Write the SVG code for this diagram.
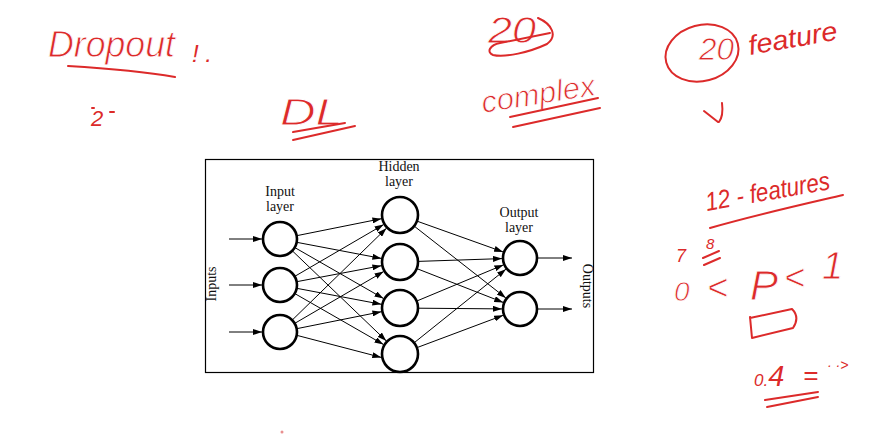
<svg xmlns="http://www.w3.org/2000/svg" width="879" height="435" viewBox="0 0 879 435">
<style>
.ink{fill:none;stroke:#dc2a2a;stroke-width:2;stroke-linecap:round;stroke-linejoin:round}
.hw{fill:#dc2a2a;font-family:"Liberation Sans","DejaVu Sans",sans-serif;font-style:italic}
.thin{stroke:#fff;stroke-width:0.8}
.node{fill:#fff;stroke:#000;stroke-width:2.6}
.edge{stroke:#000;stroke-width:1;fill:none;marker-end:url(#ah)}
.lbl{font-family:"Liberation Serif","DejaVu Serif",serif;font-size:14px;fill:#111;text-anchor:middle}
</style>
<defs>
<marker id="ah" markerWidth="9" markerHeight="6" refX="9" refY="3" orient="auto" markerUnits="userSpaceOnUse">
<path d="M0,0 L9,3 L0,6 Z" fill="#000"/>
</marker>
</defs>
<rect width="879" height="435" fill="#fff"/>

<!-- handwritten notes -->
<g id="notes">
<text class="hw thin" x="48" y="57" font-size="36" textLength="127" lengthAdjust="spacingAndGlyphs">Dropout</text>
<text class="hw" x="192" y="62" font-size="24">! .</text>
<path class="ink" d="M68,66 C100,68 140,71 175,77"/>
<text class="hw" x="91" y="126" font-size="22">2</text>
<path class="ink" d="M110,112 L114,112" stroke-width="2.5"/>
<path class="ink" d="M92,108 L94,108"/>

<text class="hw thin" x="280" y="125" font-size="36" textLength="63" lengthAdjust="spacingAndGlyphs">DL</text>
<path class="ink" d="M293,132 L345,123"/>
<path class="ink" d="M293,140 L355,126"/>

<text class="hw thin" x="488" y="43" font-size="36" textLength="48" lengthAdjust="spacingAndGlyphs">20</text>
<path class="ink" d="M538,18 C552,24 558,36 547,44 C530,52 505,58 493,55 C486,52 490,45 500,43 L550,33"/>

<text class="hw thin" x="483" y="113" font-size="30" textLength="115" lengthAdjust="spacingAndGlyphs" transform="rotate(-9 483 113)">complex</text>
<path class="ink" d="M510,117 L598,98"/>
<path class="ink" d="M513,127 L600,108"/>

<ellipse class="ink" cx="702" cy="53" rx="37" ry="28" transform="rotate(-15 702 53)"/>
<text class="hw thin" x="699" y="60" font-size="32" textLength="35" lengthAdjust="spacingAndGlyphs">20</text>
<text class="hw" x="750" y="55" font-size="27" textLength="90" lengthAdjust="spacingAndGlyphs" transform="rotate(-10 750 55)">feature</text>
<path class="ink" d="M722,103 C723,111 722,118 719,122 M704,111 L718,122"/>

<text class="hw" x="707" y="211" font-size="26" textLength="126" lengthAdjust="spacingAndGlyphs" transform="rotate(-10 707 211)">12 - features</text>
<path class="ink" d="M710,228 C755,215 800,205 843,195"/>

<text class="hw" x="676" y="262" font-size="18">7</text>
<text class="hw" x="706" y="249" font-size="15">8</text>
<path class="ink" d="M703,258 L719,251 M704,265 L720,258"/>
<text class="hw thin" x="674" y="301" font-size="28">0</text>
<text class="hw thin" x="707" y="300" font-size="36">&lt;</text>
<text class="hw thin" x="750" y="300" font-size="42">P</text>
<text class="hw thin" x="784" y="290" font-size="36">&lt;</text>
<text class="hw thin" x="822" y="279" font-size="38">1</text>

<path class="ink" d="M750,317 L752,338 L793,328 C797,322 798,315 792,309 L750,318"/>

<text class="hw" x="754" y="386"><tspan font-size="17">0</tspan><tspan font-size="17">.</tspan><tspan font-size="29">4</tspan></text>
<text class="hw" x="803" y="384" font-size="26">=</text>
<text class="hw" x="827" y="370" font-size="14">· ·&gt;</text>
<path class="ink" d="M765,400 L818,392"/>
<path class="ink" d="M767,407 L818,397"/>
<circle cx="282" cy="432" r="1.5" fill="#e06060" opacity="0.7"/>
</g>

<!-- neural network figure -->
<rect x="205.5" y="159.5" width="388" height="213" fill="#fff" stroke="#000" stroke-width="1.2"/>

<g id="labels">
<text class="lbl" x="280" y="196">Input</text>
<text class="lbl" x="280" y="211">layer</text>
<text class="lbl" x="399" y="171">Hidden</text>
<text class="lbl" x="399" y="186">layer</text>
<text class="lbl" x="519" y="217">Output</text>
<text class="lbl" x="519" y="232">layer</text>
<text class="lbl" transform="translate(216 284) rotate(-90)">Inputs</text>
<text class="lbl" transform="translate(583 286) rotate(90)">Outputs</text>
</g>

<g id="connectors">
<path class="edge" d="M229,239 L262,239"/>
<path class="edge" d="M229,285 L262,285"/>
<path class="edge" d="M229,332 L262,332"/>
<path class="edge" d="M296.7,235.7 L381.4,218.7"/>
<path class="edge" d="M296.7,242.3 L381.4,258.4"/>
<path class="edge" d="M294.7,247.5 L383.5,298.5"/>
<path class="edge" d="M292.3,250.8 L386.3,340.9"/>
<path class="edge" d="M294.7,276.4 L383.6,224.6"/>
<path class="edge" d="M296.7,281.7 L381.4,265.7"/>
<path class="edge" d="M296.7,288.3 L381.4,304.3"/>
<path class="edge" d="M294.7,293.5 L383.5,344.5"/>
<path class="edge" d="M292.2,320.1 L386.4,228.3"/>
<path class="edge" d="M294.7,323.4 L383.6,271.6"/>
<path class="edge" d="M296.7,328.7 L381.4,311.7"/>
<path class="edge" d="M296.7,335.3 L381.3,357.4"/>
<path class="edge" d="M416.9,221.1 L503.1,251.9"/>
<path class="edge" d="M414.2,226.1 L505.8,297.9"/>
<path class="edge" d="M418,261.4 L502,258.6"/>
<path class="edge" d="M416.8,268.6 L503.2,302.4"/>
<path class="edge" d="M416.6,301.1 L503.4,264.9"/>
<path class="edge" d="M418,308.2 L502,308.9"/>
<path class="edge" d="M414.1,342.8 L505.9,269.2"/>
<path class="edge" d="M416.8,347.7 L503.2,315.3"/>
<path class="edge" d="M538,258 L572,258"/>
<path class="edge" d="M538,309 L572,309"/>
</g>

<g id="in1"><circle class="node" cx="280" cy="239" r="17"/></g>
<g id="in2"><circle class="node" cx="280" cy="285" r="17"/></g>
<g id="in3"><circle class="node" cx="280" cy="332" r="17"/></g>
<g id="h1"><circle class="node" cx="400" cy="215" r="18"/></g>
<g id="h2"><circle class="node" cx="400" cy="262" r="18"/></g>
<g id="h3"><circle class="node" cx="400" cy="308" r="18"/></g>
<g id="h4"><circle class="node" cx="400" cy="354" r="18"/></g>
<g id="o1"><circle class="node" cx="520" cy="258" r="17"/></g>
<g id="o2"><circle class="node" cx="520" cy="309" r="17"/></g>
</svg>
